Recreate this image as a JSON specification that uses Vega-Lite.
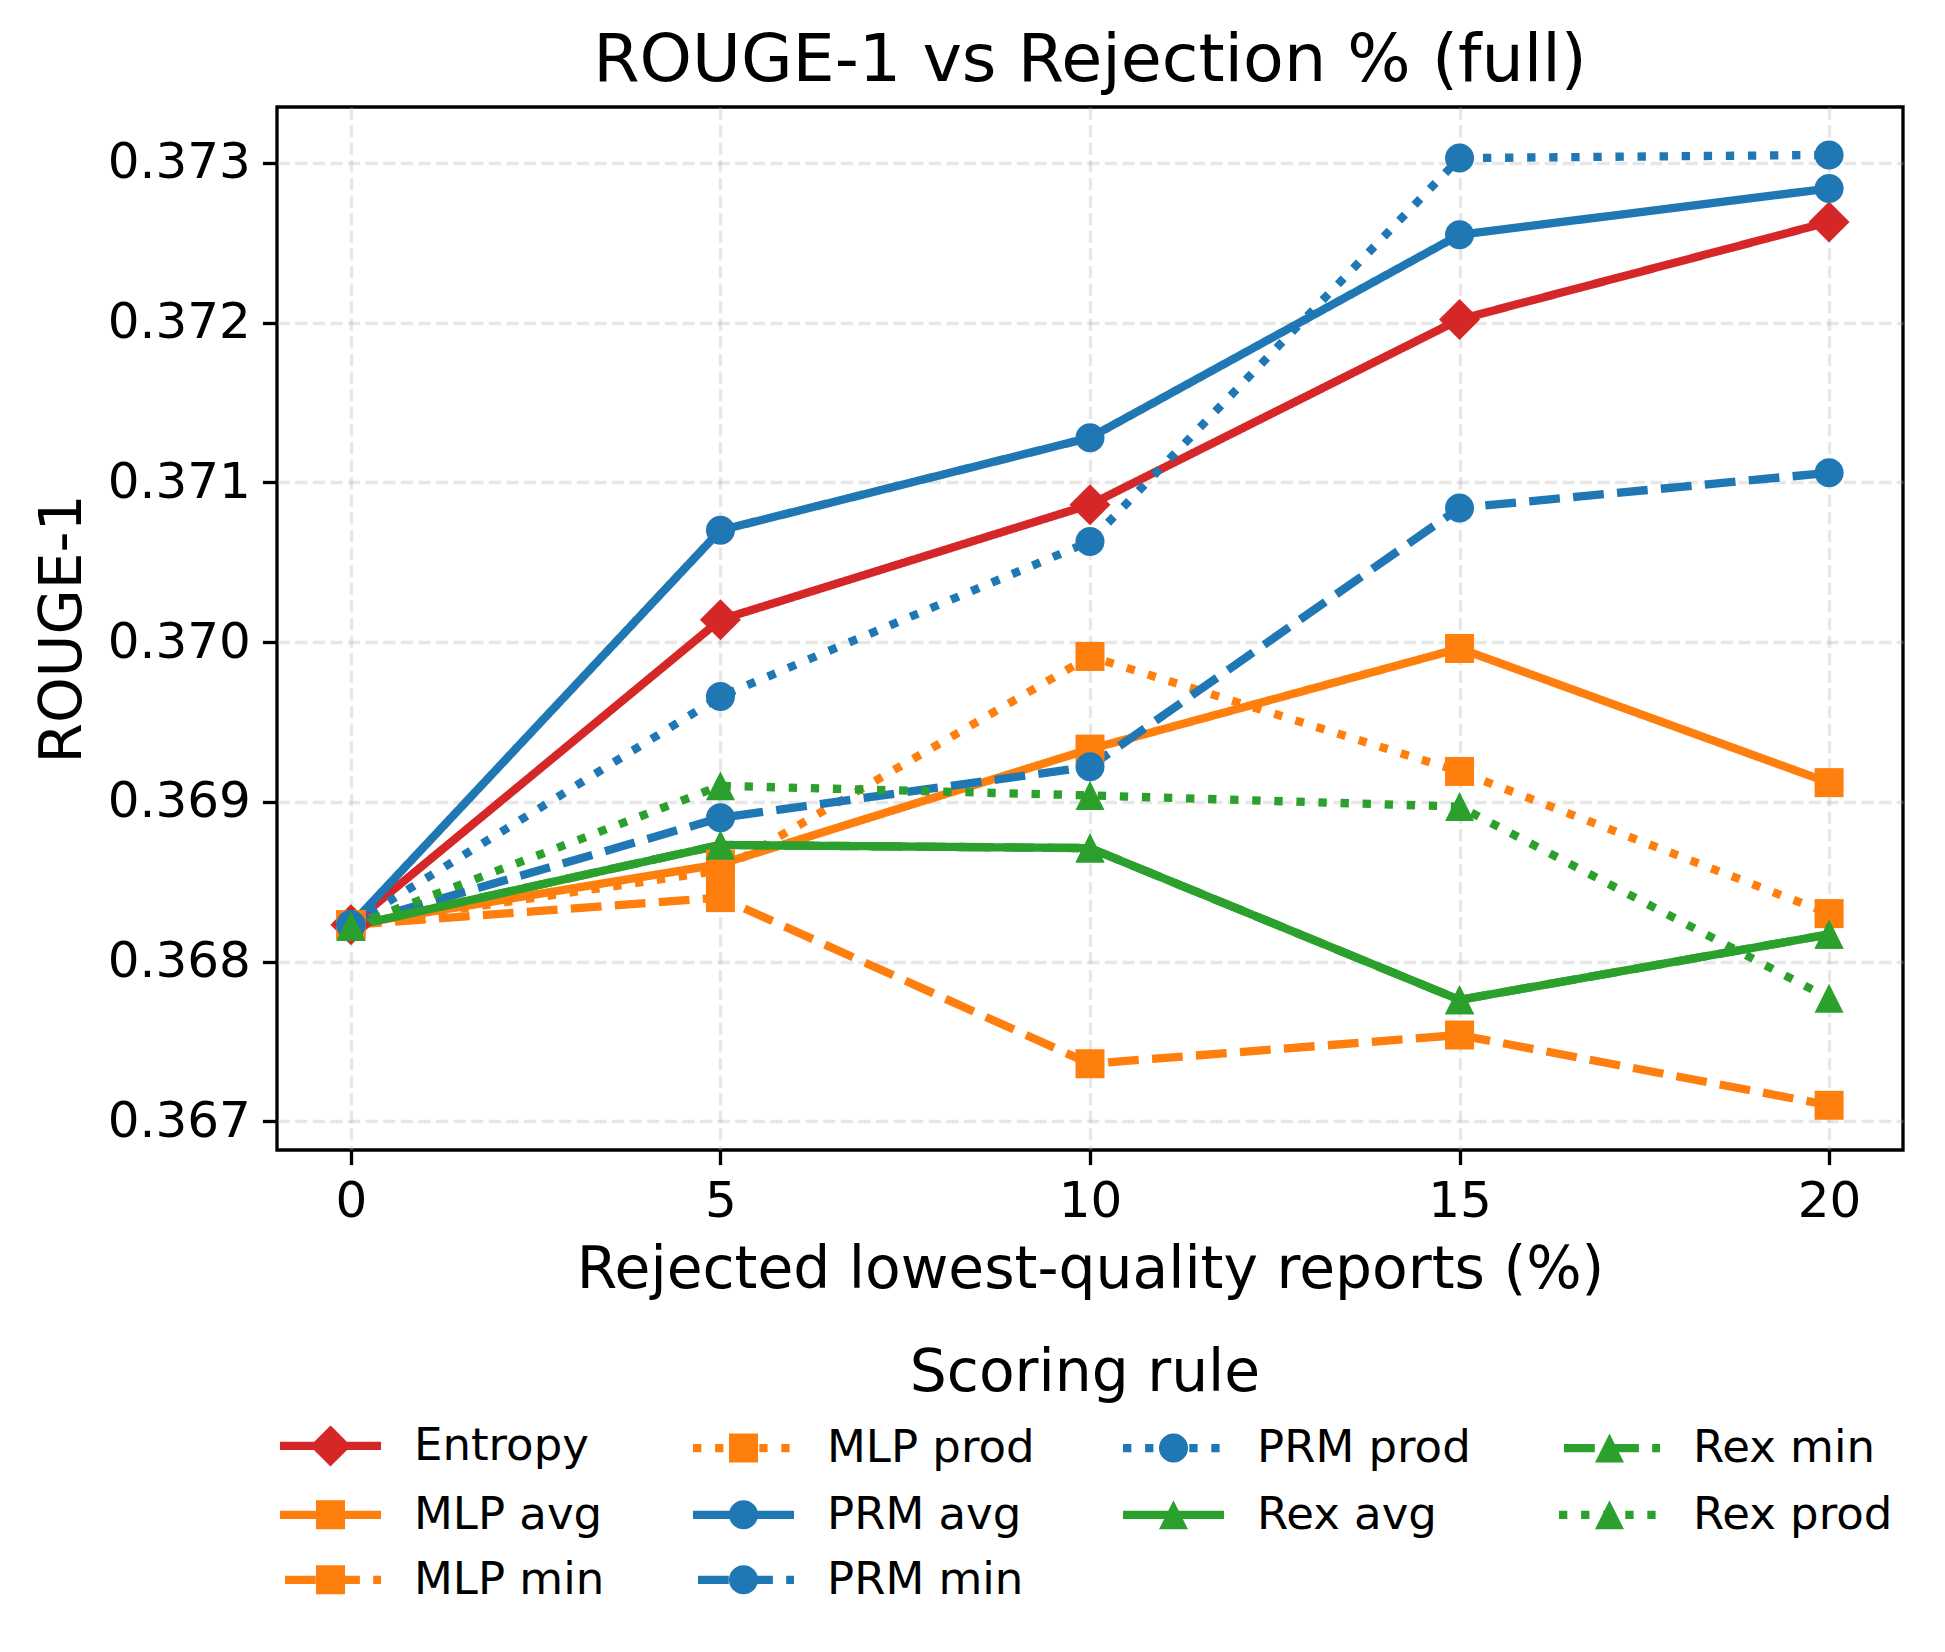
{
  "$schema": "https://vega.github.io/schema/vega-lite/v6.json",
  "autosize": {"type": "none"},
  "width": 1626,
  "height": 1043,
  "padding": {"left": 277, "top": 107, "right": 42, "bottom": 502},
  "background": "white",
  "title": {
    "text": "ROUGE-1 vs Rejection % (full)",
    "font": "DejaVu Sans",
    "fontSize": 66.7,
    "fontWeight": "normal",
    "color": "black",
    "anchor": "middle",
    "baseline": "alphabetic",
    "offset": -41
  },
  "config": {
    "view": {"stroke": "black", "strokeWidth": 3.33},
    "axis": {
      "domain": false,
      "labelFont": "DejaVu Sans",
      "labelFontSize": 50,
      "labelColor": "black",
      "tickColor": "black",
      "tickWidth": 3.33,
      "tickSize": 14.6,
      "labelPadding": 12,
      "grid": true,
      "gridColor": "#b0b0b0",
      "gridOpacity": 0.3,
      "gridWidth": 3.33,
      "gridDash": [12.3, 5.3],
      "titleFont": "DejaVu Sans",
      "titleFontSize": 58.3,
      "titleFontWeight": "normal",
      "titleColor": "black"
    }
  },
  "data": {
    "values": [
      {"rule": "Entropy", "pct": 0, "rouge": 0.36823},
      {"rule": "Entropy", "pct": 5, "rouge": 0.37014},
      {"rule": "Entropy", "pct": 10, "rouge": 0.37086},
      {"rule": "Entropy", "pct": 15, "rouge": 0.37202},
      {"rule": "Entropy", "pct": 20, "rouge": 0.37263},
      {"rule": "MLP avg", "pct": 0, "rouge": 0.36823},
      {"rule": "MLP avg", "pct": 5, "rouge": 0.36861},
      {"rule": "MLP avg", "pct": 10, "rouge": 0.36933},
      {"rule": "MLP avg", "pct": 15, "rouge": 0.36996},
      {"rule": "MLP avg", "pct": 20, "rouge": 0.36912},
      {"rule": "MLP min", "pct": 0, "rouge": 0.36823},
      {"rule": "MLP min", "pct": 5, "rouge": 0.3684},
      {"rule": "MLP min", "pct": 10, "rouge": 0.36736},
      {"rule": "MLP min", "pct": 15, "rouge": 0.36754},
      {"rule": "MLP min", "pct": 20, "rouge": 0.3671},
      {"rule": "MLP prod", "pct": 0, "rouge": 0.36823},
      {"rule": "MLP prod", "pct": 5, "rouge": 0.36857},
      {"rule": "MLP prod", "pct": 10, "rouge": 0.36991},
      {"rule": "MLP prod", "pct": 15, "rouge": 0.36919},
      {"rule": "MLP prod", "pct": 20, "rouge": 0.3683},
      {"rule": "PRM avg", "pct": 0, "rouge": 0.36823},
      {"rule": "PRM avg", "pct": 5, "rouge": 0.3707},
      {"rule": "PRM avg", "pct": 10, "rouge": 0.37128},
      {"rule": "PRM avg", "pct": 15, "rouge": 0.37255},
      {"rule": "PRM avg", "pct": 20, "rouge": 0.37284},
      {"rule": "PRM min", "pct": 0, "rouge": 0.36823},
      {"rule": "PRM min", "pct": 5, "rouge": 0.3689},
      {"rule": "PRM min", "pct": 10, "rouge": 0.36922},
      {"rule": "PRM min", "pct": 15, "rouge": 0.37084},
      {"rule": "PRM min", "pct": 20, "rouge": 0.37106},
      {"rule": "PRM prod", "pct": 0, "rouge": 0.36823},
      {"rule": "PRM prod", "pct": 5, "rouge": 0.36966},
      {"rule": "PRM prod", "pct": 10, "rouge": 0.37063},
      {"rule": "PRM prod", "pct": 15, "rouge": 0.37303},
      {"rule": "PRM prod", "pct": 20, "rouge": 0.37305},
      {"rule": "Rex avg", "pct": 0, "rouge": 0.36822},
      {"rule": "Rex avg", "pct": 5, "rouge": 0.36873},
      {"rule": "Rex avg", "pct": 10, "rouge": 0.36871},
      {"rule": "Rex avg", "pct": 15, "rouge": 0.36776},
      {"rule": "Rex avg", "pct": 20, "rouge": 0.36817},
      {"rule": "Rex min", "pct": 0, "rouge": 0.36822},
      {"rule": "Rex min", "pct": 5, "rouge": 0.36873},
      {"rule": "Rex min", "pct": 10, "rouge": 0.36871},
      {"rule": "Rex min", "pct": 15, "rouge": 0.36776},
      {"rule": "Rex min", "pct": 20, "rouge": 0.36817},
      {"rule": "Rex prod", "pct": 0, "rouge": 0.36822},
      {"rule": "Rex prod", "pct": 5, "rouge": 0.3691},
      {"rule": "Rex prod", "pct": 10, "rouge": 0.36904},
      {"rule": "Rex prod", "pct": 15, "rouge": 0.36897},
      {"rule": "Rex prod", "pct": 20, "rouge": 0.36777}
    ]
  },
  "encoding": {
    "x": {
      "field": "pct",
      "type": "quantitative",
      "scale": {"domain": [-1, 21], "nice": false, "zero": false},
      "axis": {"values": [0, 5, 10, 15, 20], "title": "Rejected lowest-quality reports (%)", "titlePadding": 15}
    },
    "y": {
      "field": "rouge",
      "type": "quantitative",
      "scale": {"domain": [0.36682, 0.37335], "nice": false, "zero": false},
      "axis": {"values": [0.367, 0.368, 0.369, 0.37, 0.371, 0.372, 0.373], "format": ".3f", "title": "ROUGE-1", "titlePadding": 15}
    }
  },
  "layer": [
    {
      "mark": {"type": "line", "strokeWidth": 8.33, "strokeJoin": "round", "strokeCap": "butt"},
      "encoding": {
        "color": {
          "field": "rule",
          "type": "nominal",
          "scale": {
            "domain": ["Entropy", "MLP prod", "PRM prod", "Rex min", "MLP avg", "PRM avg", "Rex avg", "Rex prod", "MLP min", "PRM min"],
            "range": ["#d62728", "#ff7f0e", "#1f77b4", "#2ca02c", "#ff7f0e", "#1f77b4", "#2ca02c", "#2ca02c", "#ff7f0e", "#1f77b4"]
          },
          "legend": {
            "title": "Scoring rule",
            "orient": "none",
            "direction": "horizontal",
            "legendX": 0,
            "legendY": 1238,
            "columns": 4,
            "gridAlign": "each",
            "columnPadding": 71,
            "rowPadding": 10,
            "symbolSize": 841,
            "symbolStrokeWidth": 8.33,
            "symbolOffset": 31,
            "labelOffset": 61,
            "labelFont": "DejaVu Sans",
            "labelFontSize": 45,
            "labelColor": "black",
            "labelLimit": 0,
            "titleFont": "DejaVu Sans",
            "titleFontSize": 58.3,
            "titleFontWeight": "normal",
            "titleColor": "black",
            "titleAnchor": "middle",
            "titleLimit": 3000,
            "titlePadding": 20,
            "encode": {
              "symbols": {
                "update": {
                  "shape": {"signal": "(datum.value == 'Entropy' || indexof(datum.value, 'avg') > 0 ? 'M-3.483,0L3.483,0' : indexof(datum.value, 'min') > 0 ? 'M-3.138,0L-1.014,0M-0.097,0L2.028,0M2.945,0L3.483,0' : 'M-3.483,0L-2.91,0M-1.959,0L-1.386,0M-0.441,0L0.131,0M1.09,0L1.662,0M2.607,0L3.179,0') + (datum.value == 'Entropy' ? 'M0,-1.009L1.009,0L0,1.009L-1.009,0Z' : indexof(datum.value, 'MLP') == 0 ? 'M-0.714,-0.714L0.714,-0.714L0.714,0.714L-0.714,0.714Z' : indexof(datum.value, 'PRM') == 0 ? 'M-0.714,0C-0.714,-0.394,-0.394,-0.714,0,-0.714C0.394,-0.714,0.714,-0.394,0.714,0C0.714,0.394,0.394,0.714,0,0.714C-0.394,0.714,-0.714,0.394,-0.714,0Z' : 'M0,-0.36L0.537,0.714L-0.537,0.714Z')"},
                  "fill": {"signal": "scale('color', datum.value)"},
                  "stroke": {"signal": "scale('color', datum.value)"},
                  "strokeWidth": {"value": 8.33},
                  "opacity": {"value": 1},
                  "fillOpacity": {"value": 1},
                  "strokeOpacity": {"value": 1}
                }
              }
            }
          }
        },
        "strokeDash": {
          "field": "rule",
          "type": "nominal",
          "scale": {
            "domain": ["Entropy", "MLP avg", "MLP min", "MLP prod", "PRM avg", "PRM min", "PRM prod", "Rex avg", "Rex min", "Rex prod"],
            "range": [[1, 0], [1, 0], [30.8, 13.3], [8.33, 13.75], [1, 0], [30.8, 13.3], [8.33, 13.75], [1, 0], [30.8, 13.3], [8.33, 13.75]]
          },
          "legend": null
        }
      }
    },
    {
      "mark": {"type": "point", "filled": true, "size": 841, "opacity": 1, "strokeWidth": 0},
      "encoding": {
        "color": {"field": "rule", "type": "nominal"},
        "shape": {
          "field": "rule",
          "type": "nominal",
          "scale": {
            "domain": ["Rex prod", "Rex min", "Rex avg", "PRM prod", "PRM min", "PRM avg", "MLP prod", "MLP min", "MLP avg", "Entropy"],
            "range": ["M0,-1L1,1L-1,1Z", "M0,-1L1,1L-1,1Z", "M0,-1L1,1L-1,1Z", "circle", "circle", "circle", "square", "square", "square", "M0,-1.414L1.414,0L0,1.414L-1.414,0Z"]
          },
          "legend": null
        }
      }
    }
  ]
}
